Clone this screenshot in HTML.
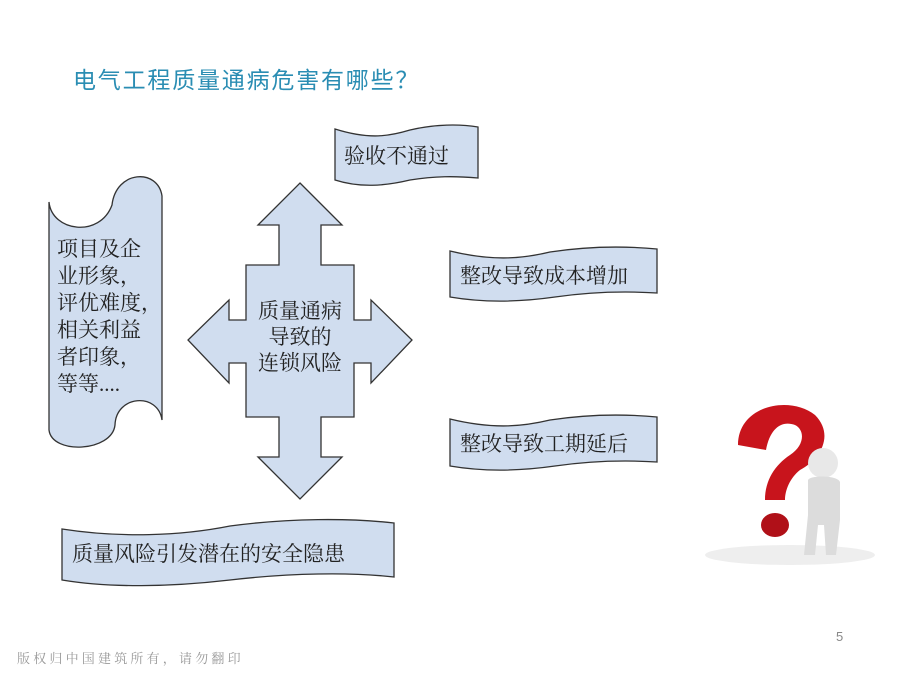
<!DOCTYPE html>
<html><head><meta charset="utf-8"><style>
body{margin:0;width:900px;height:675px;background:#fff;overflow:hidden;position:relative;font-family:"Liberation Serif","Noto Serif CJK SC",serif}
.t{position:absolute;white-space:nowrap}
</style></head><body>
<div class="t" style="left:73px;top:61px;font:23px 'Liberation Sans','Noto Sans CJK SC',sans-serif;color:#2a8db3;letter-spacing:1.8px">电气工程质量通病危害有哪些？</div>
<svg width="900" height="675" style="position:absolute;left:0;top:0">
<g fill="#d0ddef" stroke="#333" stroke-width="1.3">
<path d="M49,202 C52,232 100,238 112,205 C116,170 158,168 162,196 L162,420 C158,392 116,395 115,425 C112,452 52,455 49,430 Z"/>
<path d="M300,183 L342,225 L321,225 L321,265 L354,265 L354,320 L371,320 L371,300 L412,340 L371,383 L371,363 L354,363 L354,417 L321,417 L321,457 L342,457 L300,499 L258,457 L279,457 L279,417 L246,417 L246,363 L229,363 L229,383 L188,340 L229,300 L229,320 L246,320 L246,265 L279,265 L279,225 L258,225 Z"/>
<path d="M335,129 C370,140 390,136 410,130 C435,124 460,124 478,127 L478,178 C455,176 435,176 410,180 C385,186 360,188 335,180 Z"/>
<path d="M450,251 C495,262 525,258 550,252 C590,246 625,246 657,249 L657,293 C625,291 590,292 555,297 C520,302 485,303 450,297 Z"/>
<path d="M450,419 C495,430 525,426 550,420 C590,414 625,414 657,417 L657,462 C625,460 590,461 555,466 C520,471 485,472 450,466 Z"/>
<path d="M62,529 C120,538 180,536 230,526 C290,518 350,518 394,523 L394,577 C350,572 290,573 230,580 C170,587 110,588 62,580 Z"/>
</g>
<g font-family="'Liberation Serif','Noto Serif CJK SC',serif" font-size="21" fill="#222">
<text x="57" y="256">项目及企</text>
<text x="57" y="283">业形象，</text>
<text x="57" y="310">评优难度，</text>
<text x="57" y="337">相关利益</text>
<text x="57" y="364">者印象，</text>
<text x="57" y="391">等等....</text>
<text x="300" y="318" text-anchor="middle">质量通病</text>
<text x="300" y="344" text-anchor="middle">导致的</text>
<text x="300" y="370" text-anchor="middle">连锁风险</text>
<text x="344" y="163">验收不通过</text>
<text x="460" y="283">整改导致成本增加</text>
<text x="460" y="451">整改导致工期延后</text>
<text x="72" y="561">质量风险引发潜在的安全隐患</text>
</g>
<ellipse cx="790" cy="555" rx="85" ry="10" fill="#eee"/>
<path d="M738,445 C738,405 790,395 815,415 C835,435 820,460 800,470 C790,478 785,490 785,500 L765,500 C765,480 775,465 790,455 C805,445 805,430 795,425 C782,420 770,428 766,450 Z" fill="#c8141c"/>
<ellipse cx="775" cy="525" rx="14" ry="12" fill="#b01018"/>
<circle cx="823" cy="463" r="15" fill="#e8e8e8"/>
<path d="M808,480 C810,475 838,475 840,482 L840,520 L836,555 L826,555 L824,525 L818,525 L815,555 L804,555 L808,515 Z" fill="#dcdcdc"/>
</svg>
<div class="t" style="left:836px;top:629px;font:13px 'Liberation Sans',sans-serif;color:#888">5</div>
<div class="t" style="left:17px;top:648px;font:13px 'Liberation Serif','Noto Serif CJK SC',serif;color:#999;letter-spacing:3.2px">版权归中国建筑所有，请勿翻印</div>
</body></html>
